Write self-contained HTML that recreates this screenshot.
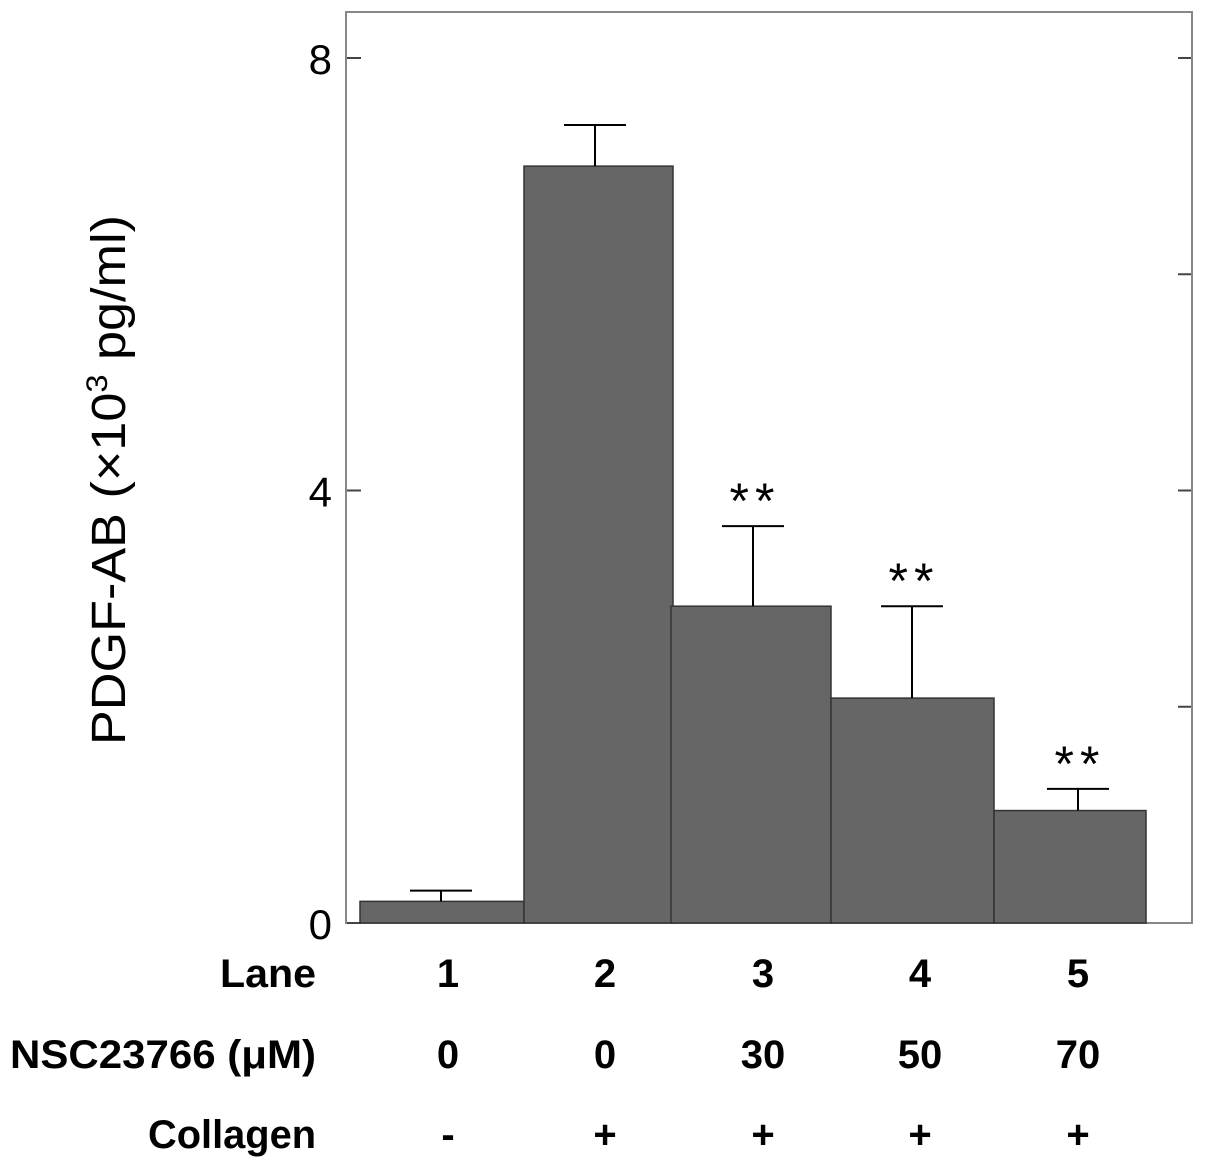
<!DOCTYPE html>
<html><head><meta charset="utf-8"><style>
html,body{margin:0;padding:0;background:#fff;}
svg{display:block;font-family:"Liberation Sans",Arial,sans-serif;}
</style></head><body>
<svg id="chart" width="1205" height="1170"></svg>
<script>
const lanes = ["1","2","3","4","5"];
const values = [0.2, 7.0, 2.93, 2.08, 1.04];
const errors = [0.1, 0.38, 0.74, 0.85, 0.2];
const significance = ["", "", "**", "**", "**"];
const nscLabels = ["0","0","30","50","70"];
const collagenLabels = ["-","+","+","+","+"];
const yTickLabels = ["0","4","8"];
const yTickValues = [0,4,8];
const rightTickValues = [2,4,6,8];

// layout (pixel edges of bars, not data)
const barEdges = [[360,524],[524,673],[671,831],[831,994],[994,1146]];
const errX = [441,595,753,912,1078];
const labelX = [448,605,763,920,1078];

const NS="http://www.w3.org/2000/svg";
const svg=document.getElementById('chart');
const y0=923, yTop=58;
function yScale(v){return y0-(y0-yTop)*v/8;}
function mk(tag,attrs,parent){const e=document.createElementNS(NS,tag);for(const k in attrs)e.setAttribute(k,attrs[k]);(parent||svg).appendChild(e);return e;}

const frame=mk('rect',{x:346,y:12,width:846,height:911,fill:'none',stroke:'#888','stroke-width':2});



yTickValues.forEach((v,i)=>{
  const t=mk('line',{x1:347,x2:361,y1:yScale(v),y2:yScale(v),stroke:'#444','stroke-width':2});
  
  
  const l=mk('text',{x:332,y:yScale(v)+16,'text-anchor':'end','font-size':42,fill:'#000'});
  l.textContent=yTickLabels[i];
  
  
});
rightTickValues.forEach(v=>{
  const t=mk('line',{x1:1178,x2:1191,y1:yScale(v),y2:yScale(v),stroke:'#444','stroke-width':2});
  
  
});

values.forEach((v,i)=>{
  const [a,b]=barEdges[i];
  const r=mk('rect',{x:a,y:yScale(v),width:b-a,height:y0-yScale(v),fill:'#666',stroke:'#333','stroke-width':1.5});
  
  
  const top=yScale(v+errors[i]);
  const g=mk('g',{stroke:'#000','stroke-width':2});
  
  
  mk('line',{x1:errX[i],x2:errX[i],y1:yScale(v),y2:top},g);
  mk('line',{x1:errX[i]-31,x2:errX[i]+31,y1:top,y2:top},g);
  if(significance[i]){
    const s=mk('text',{x:errX[i]+2,y:top-8,'text-anchor':'middle','font-size':50,fill:'#000','letter-spacing':6});
    s.textContent=significance[i];
    
    
  }
});

function rowLabel(txt,y,name,len){
  const t=mk('text',{x:316,y:y,'text-anchor':'end','font-size':40,'font-weight':'bold',fill:'#000',textLength:len,lengthAdjust:'spacingAndGlyphs'});
  t.textContent=txt;
  
  
}
rowLabel('Lane',987,'lane-row-title',96);
rowLabel('NSC23766 (μM)',1068,'nsc-row-title',306);
rowLabel('Collagen',1148,'collagen-row-title',168);
[[lanes,987,'lane-label'],[nscLabels,1068,'nsc-label'],[collagenLabels,1148,'collagen-label']].forEach(([arr,y,name])=>{
  arr.forEach((s,i)=>{
    const t=mk('text',{x:labelX[i],y:y,'text-anchor':'middle','font-size':40,'font-weight':'bold',fill:'#000'});
    t.textContent=s;
    
    
  });
});

const yt=mk('text',{x:0,y:0,'text-anchor':'middle','font-size':48,fill:'#000',transform:'translate(125,480) rotate(-90)',textLength:530,lengthAdjust:'spacingAndGlyphs'});
yt.innerHTML='PDGF-AB  (×10<tspan dy="-18" font-size="30">3</tspan><tspan dy="18"> pg/ml)</tspan>';


</script>
</body></html>
